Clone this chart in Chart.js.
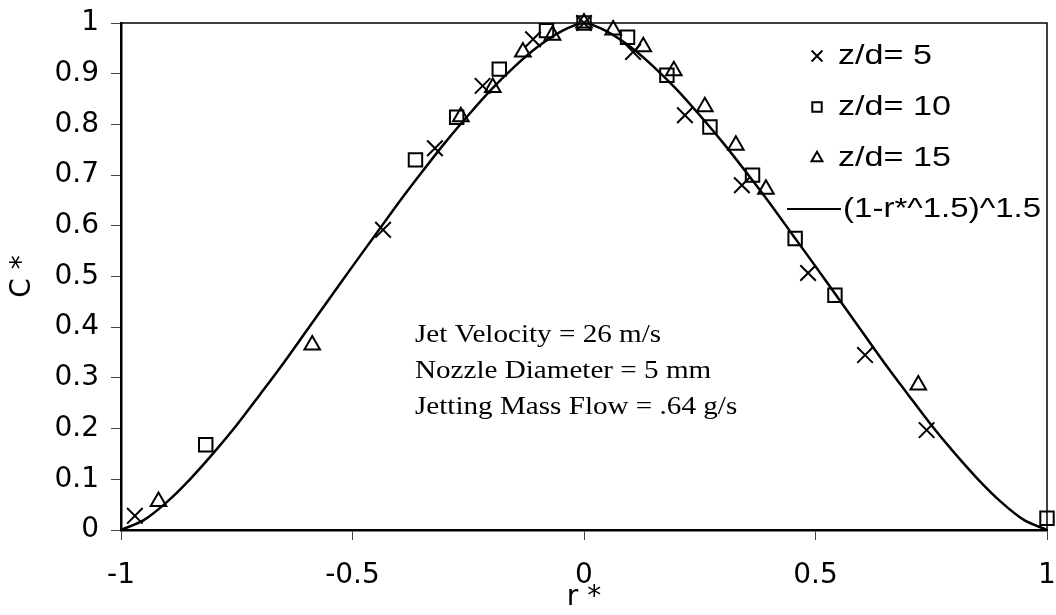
<!DOCTYPE html>
<html>
<head>
<meta charset="utf-8">
<title>C* vs r*</title>
<script src="https://cdn.jsdelivr.net/npm/chart.js@4/dist/chart.umd.min.js"></script>
<style>
  body { margin: 0; background: #fff; }
  #wrap { width: 1056px; height: 615px; }
</style>
</head>
<body>
<div id="wrap"><canvas id="chart" width="1056" height="615"></canvas></div>
<script>
// data
const zd5R = [-0.970, -0.434, -0.322, -0.219, -0.110, 0, 0.106, 0.218, 0.341, 0.484, 0.607, 0.740];
const zd5C = [0.028, 0.592, 0.753, 0.876, 0.968, 1.0, 0.943, 0.818, 0.680, 0.507, 0.345, 0.197];

const zd10R = [-0.817, -0.364, -0.275, -0.183, -0.081, 0, 0.094, 0.179, 0.272, 0.364, 0.456, 0.542, 1.0];
const zd10C = [0.168, 0.730, 0.814, 0.909, 0.985, 1.0, 0.972, 0.897, 0.795, 0.700, 0.575, 0.463, 0.023];

const zd15R = [-0.919, -0.587, -0.266, -0.197, -0.132, -0.068, 0, 0.063, 0.128, 0.194, 0.261, 0.328, 0.393, 0.722];
const zd15C = [0.056, 0.365, 0.815, 0.873, 0.943, 0.976, 1.0, 0.986, 0.953, 0.906, 0.835, 0.759, 0.672, 0.286];

// fitted curve (1-r*^1.5)^1.5, traced every 0.05
const curveR = [-1, -0.95, -0.9, -0.85, -0.8, -0.75, -0.7, -0.65, -0.6, -0.55, -0.5, -0.45, -0.4, -0.35, -0.3,
  -0.25, -0.2, -0.15, -0.1, -0.05, 0, 0.05, 0.1, 0.15, 0.2, 0.25, 0.3, 0.35, 0.4, 0.45, 0.5, 0.55, 0.6, 0.65,
  0.7, 0.75, 0.8, 0.85, 0.9, 0.95, 1];
const curveC = [0, 0.020, 0.056, 0.101, 0.152, 0.207, 0.267, 0.328, 0.392, 0.456, 0.520, 0.583, 0.646, 0.706, 0.764,
  0.818, 0.869, 0.914, 0.953, 0.983, 1, 0.983, 0.953, 0.914, 0.869, 0.818, 0.764, 0.706, 0.646, 0.583, 0.520, 0.456,
  0.392, 0.328, 0.267, 0.207, 0.152, 0.101, 0.056, 0.020, 0];

const seriesNames = ['z/d= 5', 'z/d= 10', 'z/d= 15', '(1-r*^1.5)^1.5'];
const xTicks = [-1, -0.5, 0, 0.5, 1];
const yTicks = [0, 0.1, 0.2, 0.3, 0.4, 0.5, 0.6, 0.7, 0.8, 0.9, 1];
const noteLines = ['Jet Velocity = 26 m/s', 'Nozzle Diameter = 5 mm', 'Jetting Mass Flow = .64 g/s'];

const sans = '"Liberation Sans", Arial, sans-serif';
const wide = '"DejaVu Sans", sans-serif';
const serif = '"Liberation Serif", "Times New Roman", serif';

function toPoints(xs, ys) {
  return xs.map((x, i) => ({ x: x, y: ys[i] }));
}

// keep the plot box where the original has it, labels may overhang
function noPadding(scale) {
  scale.paddingLeft = 0;
  scale.paddingRight = 0;
  scale.paddingTop = 0;
  scale.paddingBottom = 0;
}

// top and right frame lines are thinner than the axes
const framePlugin = {
  id: 'frame',
  beforeDatasetsDraw(chart) {
    const a = chart.chartArea;
    const ctx = chart.ctx;
    ctx.save();
    ctx.strokeStyle = '#000';
    ctx.lineWidth = 1.5;
    ctx.beginPath();
    ctx.moveTo(a.left, a.top);
    ctx.lineTo(a.right, a.top);
    ctx.lineTo(a.right, a.bottom);
    ctx.stroke();
    ctx.restore();
  }
};

// the original text is a bit stretched sideways
function wideText(ctx, text, x, y, sx) {
  ctx.save();
  ctx.translate(x, y);
  ctx.scale(sx, 1);
  ctx.fillText(text, 0, 0);
  ctx.restore();
}

// text block in the middle of the plot
const notePlugin = {
  id: 'note',
  afterDraw(chart) {
    const a = chart.chartArea;
    const ctx = chart.ctx;
    ctx.save();
    ctx.fillStyle = '#000';
    ctx.font = '26px ' + serif;
    ctx.textBaseline = 'alphabetic';
    noteLines.forEach((t, i) => {
      wideText(ctx, t, a.left + 294, a.top + 319 + i * 36, 1.12);
    });
    ctx.restore();
  }
};

// legend inside the plot, top right
const legendPlugin = {
  id: 'innerLegend',
  afterDraw(chart) {
    const a = chart.chartArea;
    const ctx = chart.ctx;
    const mx = a.left + 696;
    const tx = a.left + 717;
    ctx.save();
    ctx.font = '28px ' + sans;
    ctx.textBaseline = 'middle';
    chart.data.datasets.forEach((ds, i) => {
      const y = a.top + 33 + i * 51;
      ctx.fillStyle = '#000';
      if (ds.showLine) {
        ctx.strokeStyle = '#000';
        ctx.lineWidth = 2;
        ctx.beginPath();
        ctx.moveTo(a.left + 666, y);
        ctx.lineTo(a.left + 720, y);
        ctx.stroke();
        wideText(ctx, ds.label, a.left + 722, y, 1.18);
      } else {
        ctx.save();
        ctx.fillStyle = 'rgba(0,0,0,0)';
        ctx.strokeStyle = '#000';
        ctx.lineWidth = 2;
        Chart.helpers.drawPoint(ctx, {
          pointStyle: ds.pointStyle,
          radius: ds.pointRadius * 0.7,
          borderWidth: 2,
          rotation: 0
        }, mx, y);
        ctx.restore();
        wideText(ctx, ds.label, tx, y, 1.22);
      }
    });
    ctx.restore();
  }
};

const ctx = document.getElementById('chart').getContext('2d');
const chart = new Chart(ctx, {
  type: 'scatter',
  data: {
    datasets: [
      {
        label: seriesNames[0],
        data: toPoints(zd5R, zd5C),
        pointStyle: 'crossRot',
        pointRadius: 11,
        pointBorderWidth: 2,
        borderColor: '#000',
        backgroundColor: 'transparent',
        clip: false
      },
      {
        label: seriesNames[1],
        data: toPoints(zd10R, zd10C),
        pointStyle: 'rect',
        pointRadius: 9.5,
        pointBorderWidth: 2,
        borderColor: '#000',
        backgroundColor: 'transparent',
        clip: false
      },
      {
        label: seriesNames[2],
        data: toPoints(zd15R, zd15C),
        pointStyle: 'triangle',
        pointRadius: 9,
        pointBorderWidth: 2,
        borderColor: '#000',
        backgroundColor: 'transparent',
        clip: false
      },
      {
        label: seriesNames[3],
        data: toPoints(curveR, curveC),
        showLine: true,
        pointRadius: 0,
        borderColor: '#000',
        borderWidth: 2.5,
        tension: 0.3,
        backgroundColor: 'transparent'
      }
    ]
  },
  options: {
    responsive: false,
    animation: false,
    layout: { autoPadding: false, padding: { left: 0, top: 23, right: 9, bottom: 0 } },
    plugins: {
      legend: { display: false },
      tooltip: { enabled: false }
    },
    scales: {
      x: {
        type: 'linear',
        min: -1,
        max: 1,
        afterBuildTicks: (scale) => { scale.ticks = xTicks.map(v => ({ value: v })); },
        afterFit: (scale) => {
          scale.height = 85;
          noPadding(scale);
        },
        ticks: {
          color: '#000',
          font: { family: wide, size: 28 },
          padding: 19,
          maxRotation: 0,
          callback: (v) => String(v)
        },
        grid: { drawOnChartArea: false, drawTicks: true, tickLength: 10, color: '#444', lineWidth: 1 },
        border: { display: true, color: '#000', width: 2.5 },
        title: {
          display: true,
          text: 'r *',
          color: '#000',
          font: { family: wide, size: 28 },
          padding: 0
        }
      },
      y: {
        type: 'linear',
        min: 0,
        max: 1,
        afterBuildTicks: (scale) => { scale.ticks = yTicks.map(v => ({ value: v })); },
        afterFit: (scale) => {
          scale.width = 121;
          noPadding(scale);
        },
        ticks: {
          color: '#000',
          font: { family: wide, size: 28 },
          padding: 12,
          callback: (v) => String(v)
        },
        grid: { drawOnChartArea: false, drawTicks: true, tickLength: 10, color: '#444', lineWidth: 1 },
        border: { display: true, color: '#000', width: 2.5 },
        title: {
          display: true,
          text: 'C *',
          color: '#000',
          font: { family: wide, size: 28 },
          padding: { top: 6, bottom: 0 }
        }
      }
    }
  },
  plugins: [framePlugin, notePlugin, legendPlugin]
});
</script>
</body>
</html>
